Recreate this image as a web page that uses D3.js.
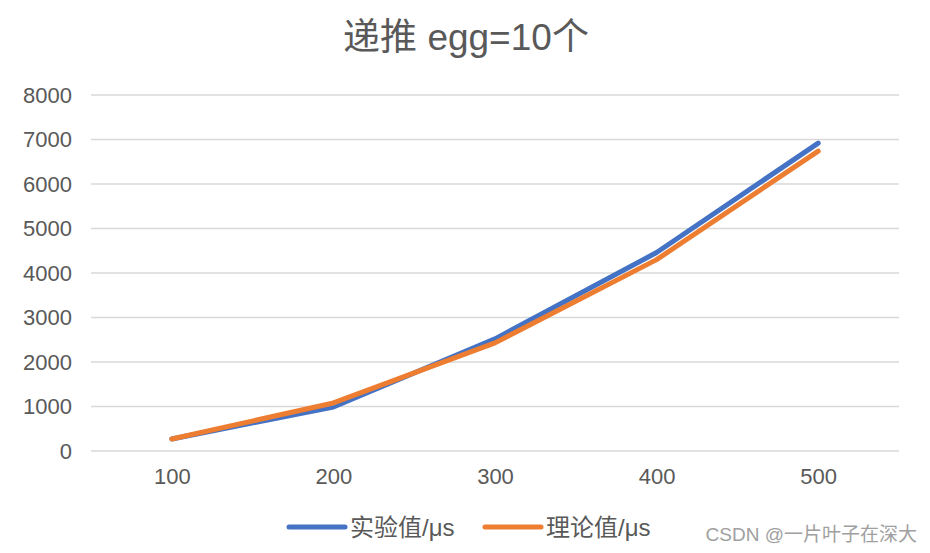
<!DOCTYPE html>
<html><head><meta charset="utf-8">
<script src="https://cdn.jsdelivr.net/npm/d3@7"></script>
<style>body{margin:0;background:#fff}svg{display:block}</style>
</head><body>
<svg id="c" width="930" height="553"></svg>
<script>
const categories = ["100", "200", "300", "400", "500"];
const seriesNames = ["实验值/μs", "理论值/μs"];
const experimental = [270, 990, 2520, 4460, 6920];
const theoretical = [270, 1080, 2430, 4300, 6740];
const yTicks = [0, 1000, 2000, 3000, 4000, 5000, 6000, 7000, 8000];
const colors = ["#4472C4", "#ED7D31"];

(function () {
const svg = d3.select("#c");
const font = "'Liberation Sans', 'Noto Sans CJK SC', sans-serif";
const mLeft = 91, mRight = 899, mTop = 95, mBottom = 451;

const x = d3.scalePoint().domain(categories).range([mLeft, mRight]).padding(0.5);
const y = d3.scaleLinear().domain([0, 8000]).range([mBottom, mTop]);

svg.append("g").selectAll("line").data(yTicks).join("line")
  .attr("x1", mLeft).attr("x2", mRight)
  .attr("y1", d => y(d)).attr("y2", d => y(d))
  .attr("stroke", "#d9d9d9").attr("stroke-width", 1.3);

const ya = svg.append("g").attr("transform", `translate(${mLeft},0)`)
  .call(d3.axisLeft(y).tickValues(yTicks).tickFormat(d3.format("d")).tickSize(0).tickPadding(19));
ya.select(".domain").remove();
ya.selectAll("text").attr("font-size", 22).attr("font-family", font).attr("fill", "#595959");

const xa = svg.append("g").attr("transform", `translate(0,${mBottom})`)
  .call(d3.axisBottom(x).tickSize(0).tickPadding(17));
xa.select(".domain").remove();
xa.selectAll("text").attr("font-size", 22).attr("font-family", font).attr("fill", "#595959");

const line = d3.line().x((d, i) => x(categories[i])).y(d => y(d));
[experimental, theoretical].forEach((s, k) => {
  svg.append("path").datum(s).attr("d", line)
    .attr("fill", "none").attr("stroke", colors[k]).attr("stroke-width", 5)
    .attr("stroke-linecap", "round").attr("stroke-linejoin", "round");
});

svg.append("text").attr("x", 466).attr("y", 50).attr("text-anchor", "middle")
  .attr("font-size", 37).attr("font-family", font).attr("fill", "#595959")
  .text("递推 egg=10个");

const legX = [289, 485];
seriesNames.forEach((n, k) => {
  svg.append("line").attr("x1", legX[k]).attr("x2", legX[k] + 56)
    .attr("y1", 527).attr("y2", 527).attr("stroke", colors[k])
    .attr("stroke-width", 5).attr("stroke-linecap", "round");
  svg.append("text").attr("x", legX[k] + 61).attr("y", 536)
    .attr("font-size", 24).attr("font-family", font).attr("fill", "#595959").text(n);
});

svg.append("text").attr("x", 917).attr("y", 541).attr("text-anchor", "end")
  .attr("font-size", 19).attr("font-family", font).attr("fill", "#a0a0a0")
  .text("CSDN @一片叶子在深大");
})();
</script>
</body></html>
